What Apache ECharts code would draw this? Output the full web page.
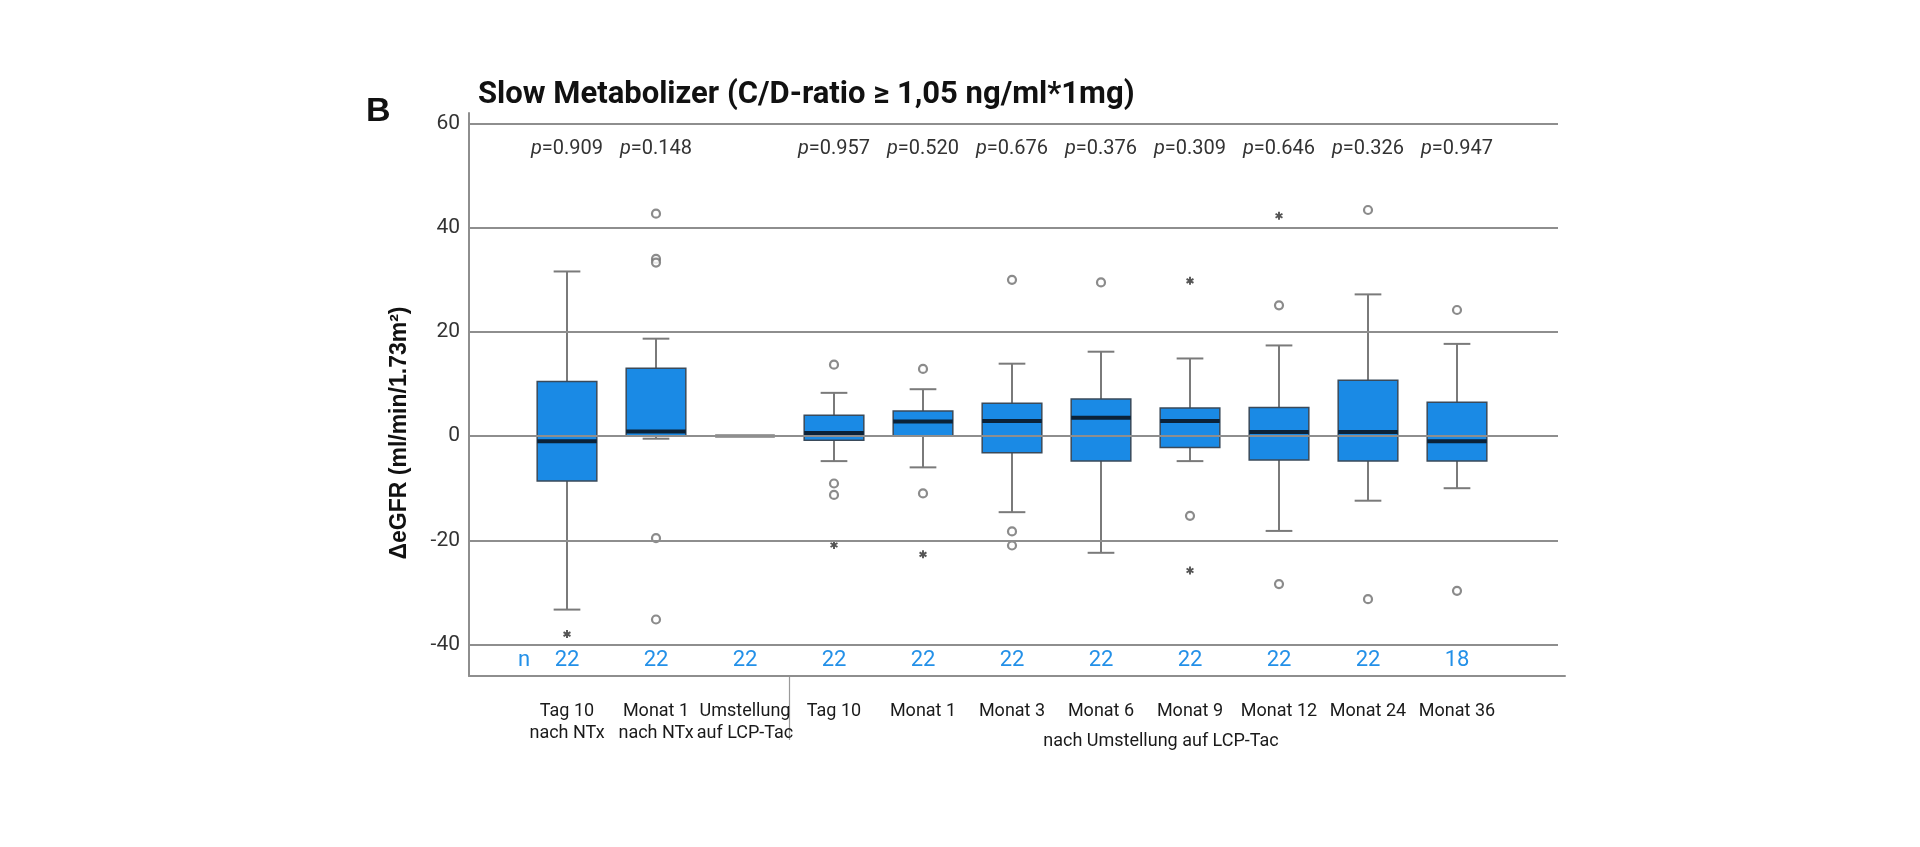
<!DOCTYPE html>
<html>
<head>
<meta charset="utf-8">
<script src="https://cdn.jsdelivr.net/npm/echarts@6/dist/echarts.min.js"></script>
<style>
  html, body { margin: 0; padding: 0; background: #fff; }
  #chart { width: 1920px; height: 847px; }
</style>
</head>
<body>
<div id="chart"></div>
<script>
// Kategorien (Zeitpunkte)
const categories = [
  "Tag 10\nnach NTx", "Monat 1\nnach NTx", "Umstellung\nauf LCP-Tac",
  "Tag 10", "Monat 1", "Monat 3", "Monat 6", "Monat 9", "Monat 12", "Monat 24", "Monat 36",
];
const counts = [22, 22, 22, 22, 22, 22, 22, 22, 22, 22, 18];
const pValues = ["0.909", "0.148", "", "0.957", "0.520", "0.676", "0.376", "0.309", "0.646", "0.326", "0.947"];

// Boxplot-Kennwerte
const whiskerLow = [-33.3, -0.5, 0, -4.8, -6.0, -14.6, -22.4, -4.8, -18.2, -12.4, -10.0];
const q1 = [-8.6, 0, 0, -0.8, 0, -3.2, -4.8, -2.2, -4.6, -4.8, -4.8];
const median = [-1.0, 0.9, 0, 0.6, 2.8, 2.9, 3.5, 2.9, 0.8, 0.8, -1.0];
const q3 = [10.5, 13.0, 0, 4.0, 4.8, 6.3, 7.1, 5.4, 5.5, 10.7, 6.5];
const whiskerHigh = [31.6, 18.7, 0, 8.3, 9.0, 13.9, 16.2, 14.9, 17.4, 27.2, 17.7];

// Ausreißer (o) und Extremwerte (*)
const outliers = [
  [], [42.7, 34.0, 33.3, -19.6, -35.2], [], [13.7, -9.1, -11.3], [12.9, -11.0],
  [30.0, -18.3, -21.0], [29.5], [-15.3], [25.1, -28.4], [43.4, -31.3], [24.2, -29.7],
];
const extremes = [[-38.0], [], [], [-20.9], [-22.7], [], [], [29.8, -25.8], [42.3], [], []];

const yTicks = { min: -40, max: 60, step: 20 };

const GRAY = "#8e8e8e";
const BLUE = "#1a8ae5";
const asterisk =
  "path://M-1.2,-5L1.2,-5L1.2,5L-1.2,5Z M3.73,-3.54L4.93,-1.46L-3.73,3.54L-4.93,1.46Z M-4.93,-1.46L-3.73,-3.54L4.93,1.46L3.73,3.54Z";

const boxData = categories.map((c, i) => [i, whiskerLow[i], q1[i], median[i], q3[i], whiskerHigh[i]]);
const outlierData = outliers.flatMap((vals, i) => vals.map(v => [i, v]));
const extremeData = extremes.flatMap((vals, i) => vals.map(v => [i, v]));

function renderBox(params, api) {
  const x = api.value(0);
  const lo = api.coord([x, api.value(1)]);
  const b1 = api.coord([x, api.value(2)]);
  const md = api.coord([x, api.value(3)]);
  const b3 = api.coord([x, api.value(4)]);
  const hi = api.coord([x, api.value(5)]);
  const band = api.size([1, 0])[0];
  const hw = band * 0.335; // halbe Boxbreite
  const cw = band * 0.15; // halbe Whisker-Endbreite
  const cx = lo[0];
  const flat = Math.abs(b1[1] - b3[1]) < 0.5;
  const wStyle = { stroke: "#7a7a7a", lineWidth: 2 };
  return {
    type: "group",
    children: [
      { type: "line", shape: { x1: cx, y1: lo[1], x2: cx, y2: b1[1] }, style: wStyle },
      { type: "line", shape: { x1: cx, y1: b3[1], x2: cx, y2: hi[1] }, style: wStyle },
      { type: "line", shape: { x1: cx - cw, y1: lo[1], x2: cx + cw, y2: lo[1] }, style: wStyle },
      { type: "line", shape: { x1: cx - cw, y1: hi[1], x2: cx + cw, y2: hi[1] }, style: wStyle },
      {
        type: "rect",
        shape: { x: cx - hw, y: b3[1], width: hw * 2, height: b1[1] - b3[1] },
        style: { fill: BLUE, stroke: flat ? "#a0a0a0" : "#3a4a5a", lineWidth: 1.5 },
      },
      {
        type: "line",
        shape: { x1: cx - hw, y1: md[1], x2: cx + hw, y2: md[1] },
        style: { stroke: flat ? "#a0a0a0" : "#0b2238", lineWidth: 4 },
      },
    ],
  };
}

const chart = echarts.init(document.getElementById("chart"));

const option = {
  backgroundColor: "#fff",
  animation: false,
  title: [
    {
      text: "B",
      left: 366,
      top: 95,
      padding: 0,
      textStyle: { fontFamily: "Liberation Sans", fontWeight: "bold", fontSize: 34, color: "#111" },
    },
    {
      text: "Slow Metabolizer (C/D-ratio ≥ 1,05 ng/ml*1mg)",
      left: 478,
      top: 80,
      padding: 0,
      textStyle: { fontFamily: "Roboto", fontWeight: "bold", fontSize: 31, color: "#111" },
    },
  ],
  grid: [
    // Rahmen (Achsenlinien)
    { left: 469, right: 355, top: 113, bottom: 171 },
    // Skala mit Gitterlinien
    { left: 469, right: 362, top: 123.5, bottom: 202.5 },
    // Boxen
    { left: 522.5, right: 418.5, top: 123.5, bottom: 202.5 },
  ],
  xAxis: [
    {
      gridIndex: 0, type: "value", min: 0, max: 1,
      axisLine: { show: true, lineStyle: { color: GRAY, width: 2 } },
      axisTick: { show: false }, axisLabel: { show: false }, splitLine: { show: false },
    },
    { gridIndex: 1, type: "value", show: false, min: 0, max: 1 },
    {
      gridIndex: 2, type: "category", data: categories, position: "bottom", offset: 31.5,
      axisLine: { show: false }, axisTick: { show: false },
      axisLabel: {
        interval: 0, margin: 24, color: "#1a1a1a",
        fontFamily: "Roboto", fontSize: 18, lineHeight: 22,
      },
    },
    {
      gridIndex: 2, type: "category", data: categories, position: "bottom",
      axisLine: { show: false }, axisTick: { show: false },
      axisLabel: {
        interval: 0, margin: 5, color: "#2390e8",
        fontFamily: "Roboto", fontSize: 22,
        formatter: (v, i) => String(counts[i]),
      },
    },
    {
      gridIndex: 2, type: "category", data: categories, position: "top",
      axisLine: { show: false }, axisTick: { show: false },
      axisLabel: {
        interval: 0, inside: true, margin: 15, color: "#333",
        fontFamily: "Roboto", fontSize: 20,
        formatter: (v, i) => (pValues[i] ? "{i|p}=" + pValues[i] : ""),
        rich: { i: { fontStyle: "italic", fontFamily: "Roboto", fontSize: 20, color: "#333" } },
      },
    },
  ],
  yAxis: [
    {
      gridIndex: 0, type: "value", min: 0, max: 1,
      axisLine: { show: true, lineStyle: { color: GRAY, width: 2 } },
      axisTick: { show: false }, axisLabel: { show: false }, splitLine: { show: false },
    },
    {
      gridIndex: 1, type: "value", min: yTicks.min, max: yTicks.max, interval: yTicks.step, z: 10,
      axisLine: { show: false }, axisTick: { show: false },
      axisLabel: { margin: 9, color: "#333", fontFamily: "Roboto", fontSize: 21 },
      splitLine: { show: true, lineStyle: { color: GRAY, width: 2 } },
    },
    { gridIndex: 2, type: "value", min: yTicks.min, max: yTicks.max, show: false },
  ],
  series: [
    {
      type: "custom",
      xAxisIndex: 2, yAxisIndex: 2,
      renderItem: renderBox,
      data: boxData,
      z: 2,
    },
    {
      type: "scatter",
      xAxisIndex: 2, yAxisIndex: 2,
      symbol: "circle", symbolSize: 8,
      itemStyle: { color: "#fff", borderColor: "#6e6e6e", borderWidth: 2.2 },
      data: outlierData,
      z: 3,
    },
    {
      type: "scatter",
      xAxisIndex: 2, yAxisIndex: 2,
      symbol: asterisk, symbolSize: 8, symbolKeepAspect: true,
      itemStyle: { color: "#2a2a2a" },
      data: extremeData,
      z: 3,
    },
  ],
  graphic: [
    {
      type: "text", left: 518, top: 649,
      style: { text: "n", fill: "#2390e8", font: "22px Roboto", textAlign: "center" },
    },
    {
      type: "text", x: 400, y: 433, rotation: Math.PI / 2,
      style: {
        text: "ΔeGFR (ml/min/1.73m²)", fill: "#111",
        font: "bold 23px 'Liberation Sans'", textAlign: "center", textVerticalAlign: "middle",
      },
    },
    {
      type: "text", x: 1161, y: 741,
      style: {
        text: "nach Umstellung auf LCP-Tac", fill: "#1a1a1a",
        font: "18px Roboto", textAlign: "center", textVerticalAlign: "middle",
      },
    },
  ],
};

chart.setOption(option);

// Trennlinie zwischen "Umstellung" und den Folgezeitpunkten
const xa = chart.convertToPixel({ xAxisIndex: 2 }, 2);
const xb = chart.convertToPixel({ xAxisIndex: 2 }, 3);
const yTop = chart.convertToPixel({ gridIndex: 0 }, [0, 0])[1];
chart.setOption({
  graphic: [
    {
      type: "line", id: "divider",
      shape: { x1: (xa + xb) / 2, y1: yTop, x2: (xa + xb) / 2, y2: yTop + 64 },
      style: { stroke: "#9a9a9a", lineWidth: 1.2 },
    },
  ],
});
</script>
</body>
</html>
